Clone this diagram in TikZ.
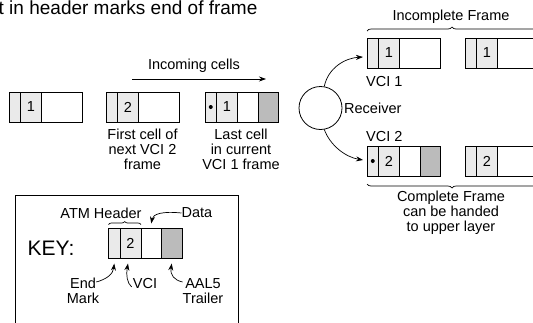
\documentclass[tikz,border=0pt]{standalone}
\usepackage{fontspec}
\setmainfont{Liberation Sans}
\usetikzlibrary{arrows.meta,decorations.pathreplacing,calc}
\definecolor{lightg}{HTML}{EAEAEA}
\definecolor{darkg}{HTML}{BBBBBB}
\newcommand\atmcell[5]{% name, x, y(top), digit, last segment style
  \node[emseg] (#1e) at (#2,#3) {};
  \node[vciseg] (#1v) at (#1e.north east) {#4};
  \node[#5] (#1d) at (#1v.north east) {};
}
\begin{document}
\begin{tikzpicture}[x=1pt,y=-1pt,
  seg/.style={draw,line width=0.8pt,minimum height=30pt,inner sep=0pt,outer sep=0pt,anchor=north west},
  emseg/.style={seg,fill=lightg,minimum width=11.5pt},
  vciseg/.style={seg,fill=lightg,minimum width=21pt,font=\fontsize{14.5}{15}\selectfont},
  datseg/.style={seg,fill=white,minimum width=20.5pt},
  longseg/.style={seg,fill=white,minimum width=40.5pt},
  trlseg/.style={seg,fill=darkg,minimum width=20.5pt},
  lbl/.style={font=\fontsize{14.5}{15}\selectfont,align=center,inner sep=0pt},
  arr/.style={-{Stealth[length=7pt,width=5pt]},line width=0.7pt},
  brc/.style={decorate,decoration={brace,amplitude=4pt},line width=0.7pt},
  dotm/.style={circle,fill=black,inner sep=0pt,minimum size=4pt}
]
\useasboundingbox (0,0) rectangle (533,322);
\clip (0,0) rectangle (533,322);

% title (cut off at left)
\node[font=\fontsize{19}{19}\selectfont,anchor=base west,inner sep=0pt] (title) at (-1.5,14) {t in header marks end of frame};

% incoming cells
\node[lbl] (inc) at (194,66) {Incoming cells};
\coordinate (ia) at (132,79);
\coordinate (ib) at (266,79);
\draw[arr] (ia) -- (ib);

% left row
\atmcell{a}{9}{92}{1}{longseg}
\atmcell{b}{106}{92}{2}{longseg}
\atmcell{c}{205}{92}{1}{datseg}
\node[trlseg] (ct) at (cd.north east) {};
\node[dotm] (cdot) at (ce) {};

\node[lbl] (bl) at (142.5,149) {First cell of\\next VCI 2\\frame};
\node[lbl] (cl) at (241,149) {Last cell\\in current\\VCI 1 frame};

% receiver
\node[circle,draw,line width=0.8pt,minimum size=43pt,inner sep=0pt] (rx) at (320.5,108) {};
\node[lbl,anchor=west] (rxl) at (344,108) {Receiver};

% right rows
\atmcell{p}{367}{38}{1}{longseg}
\atmcell{q}{465}{38}{1}{longseg}
\atmcell{r}{367}{146}{2}{datseg}
\node[trlseg] (rt) at (rd.north east) {};
\node[dotm] (rdot) at (re) {};
\atmcell{s}{465}{146}{2}{longseg}

\node[lbl,anchor=west] (v1) at (366,82) {VCI 1};
\node[lbl,anchor=west] (v2) at (366,137) {VCI 2};

\draw[arr] (rx.80) .. controls (328,68) and (345,58) .. ($(pe.west)+(-4,4)$);
\draw[arr] (rx.-80) .. controls (330,145) and (345,157) .. ($(re.west)+(-4,-1)$);

% braces
\coordinate (b1a) at (367,31);
\coordinate (b1b) at (537,31);
\draw[brc] (b1a) -- (b1b);
\node[lbl] (incf) at (451,17) {Incomplete Frame};
\coordinate (b2a) at (367,184);
\coordinate (b2b) at (537,184);
\draw[brc] (b2b) -- (b2a);
\node[lbl] (cf) at (451,213) {Complete Frame\\can be handed\\to upper layer};

% key
\draw[line width=0.8pt] (15,340) -- (15,195) -- (238,195) -- (238,340);
\node[font=\fontsize{21}{21}\selectfont,inner sep=0pt] (key) at (51,248) {KEY:};
\atmcell{k}{108.5}{228.5}{2}{datseg}
\node[trlseg] (kt) at (kd.north east) {};

\node[lbl] (atm) at (101,213) {ATM Header};
\draw[decorate,decoration={brace,amplitude=3pt},line width=0.7pt] ($(ke.north west)+(0,-4)$) -- ($(kv.north east)+(0,-4)$);
\node[lbl] (data) at (197,213) {Data};
\draw[arr] (data.west) .. controls (162,211) and (153,214) .. ($(kd.north)+(0,-5)$);

\node[lbl] (endm) at (83,291) {End\\Mark};
\node[lbl] (vcil) at (145,284) {VCI};
\node[lbl] (aal) at (203,291) {AAL5\\Trailer};
\draw[arr] ($(endm.east)+(-3,-9)$) .. controls (107,279) and (113,274) .. ($(ke.south)+(0,5)$);
\draw[arr] ($(vcil.west)+(-1,3)$) .. controls (127,283) and (126,275) .. ($(kv.south west)+(8,5)$);
\draw[arr] ($(aal.west)+(0,-9)$) .. controls (174,280) and (170,275) .. ($(kt.south)+(0,5)$);
\end{tikzpicture}
\end{document}
